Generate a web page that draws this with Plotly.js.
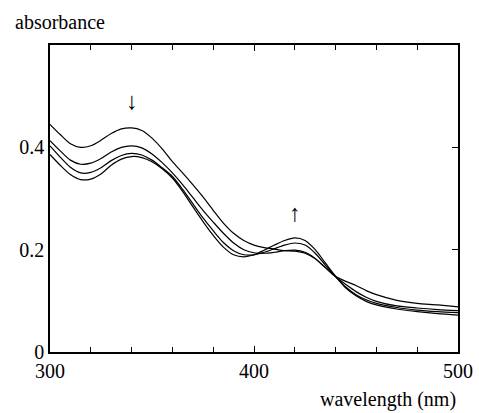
<!DOCTYPE html>
<html>
<head>
<meta charset="utf-8">
<script src="https://cdn.plot.ly/plotly-3.0.1.min.js"></script>
<style>
html,body{margin:0;padding:0;background:#fff;}
#chart{width:479px;height:413px;position:relative;z-index:1;}
#chart svg text{font-family:'Liberation Serif' !important;}
#fontwarm{position:absolute;left:2px;top:392px;font:12px 'Liberation Serif';color:#fff;z-index:0;white-space:nowrap;}
</style>
</head>
<body>
<div id="fontwarm">abs ↓↑ 0.4</div>
<div id="chart"></div>
<script>
// wavelength (nm)
const wavelength = [300,305,310,315,320,325,330,335,340,345,350,355,360,365,370,375,380,385,390,395,400,405,410,415,420,425,430,435,440,445,450,455,460,470,480,490,500];
// absorbance spectra (first -> last)
const spectrum1 = [0.445,0.425,0.407,0.400,0.403,0.414,0.427,0.436,0.438,0.433,0.418,0.397,0.372,0.350,0.327,0.303,0.277,0.252,0.232,0.218,0.209,0.204,0.201,0.198,0.197,0.193,0.182,0.165,0.148,0.138,0.130,0.120,0.112,0.101,0.095,0.092,0.088];
const spectrum2 = [0.413,0.393,0.375,0.367,0.369,0.378,0.391,0.400,0.403,0.399,0.387,0.370,0.350,0.327,0.302,0.277,0.254,0.232,0.213,0.200,0.194,0.193,0.195,0.198,0.199,0.195,0.183,0.165,0.147,0.132,0.118,0.107,0.099,0.090,0.086,0.083,0.081];
const spectrum3 = [0.403,0.381,0.361,0.350,0.351,0.360,0.374,0.384,0.388,0.385,0.375,0.360,0.343,0.318,0.290,0.262,0.237,0.214,0.198,0.190,0.190,0.195,0.202,0.209,0.213,0.209,0.193,0.170,0.147,0.127,0.112,0.102,0.095,0.087,0.082,0.079,0.077];
const spectrum4 = [0.386,0.365,0.347,0.337,0.338,0.348,0.365,0.377,0.382,0.380,0.372,0.358,0.340,0.314,0.284,0.255,0.228,0.205,0.190,0.186,0.190,0.199,0.209,0.218,0.223,0.218,0.200,0.174,0.148,0.125,0.110,0.099,0.092,0.084,0.079,0.075,0.072];
const spectra = [spectrum1, spectrum2, spectrum3, spectrum4];
// arrow annotations
const arrowX = [340, 420];
const arrowY = [0.49, 0.272];
const arrowText = ["↓", "↑"];
const xTickVals = [300, 400, 500];
const yTickVals = [0, 0.2, 0.4];
const yTickText = ["0", "0.2", "0.4"];

const FONT = 'Liberation Serif';

const traces = spectra.map(s => ({
  x: wavelength, y: s, type: 'scatter', mode: 'lines',
  line: {color: '#000', width: 1.2, shape: 'spline', smoothing: 0.8},
  hoverinfo: 'none', showlegend: false
}));
traces.push({x: [300], y: [0], yaxis: 'y2', mode: 'markers', marker: {opacity: 0}, showlegend: false, hoverinfo: 'none'});

const annotations = arrowX.map((x, i) => ({
  x: x, y: arrowY[i], xref: 'x', yref: 'y', text: arrowText[i], showarrow: false,
  font: {family: FONT, size: 24, color: '#000'}
}));
annotations.push({x: -0.09, y: 1.075, xref: 'paper', yref: 'paper', xanchor: 'left', yanchor: 'middle',
  text: 'absorbance', showarrow: false, font: {family: FONT, size: 20, color: '#000'}});
annotations.push({x: 1.0, y: -0.156, xref: 'paper', yref: 'paper', xanchor: 'right', yanchor: 'middle',
  text: 'wavelength (nm)', showarrow: false, font: {family: FONT, size: 20, color: '#000'}});

const layout = {
  width: 479, height: 413,
  margin: {l: 50, r: 21, t: 45, b: 61},
  paper_bgcolor: 'rgba(255,255,255,0)', plot_bgcolor: '#fff',
  font: {family: FONT, size: 20, color: '#000'},
  xaxis: {
    range: [300, 500], tickvals: xTickVals, ticks: 'inside', ticklen: 6, tickwidth: 1.2, tickcolor: '#000',
    minor: {dtick: 20, tick0: 300, ticks: 'inside', ticklen: 5, tickwidth: 1, tickcolor: '#000'},
    showline: true, linecolor: '#000', linewidth: 1.5, mirror: 'ticks', showgrid: false, zeroline: false,
    tickfont: {family: FONT, size: 20, color: '#000'}
  },
  yaxis: {
    range: [0, 0.6], tickvals: yTickVals, ticktext: yTickText, ticks: '',
    showline: true, linecolor: '#000', linewidth: 1.5, mirror: true, showgrid: false, zeroline: false,
    tickfont: {family: FONT, size: 20, color: '#000'}
  },
  yaxis2: {
    overlaying: 'y', side: 'right', range: [0, 0.6], tickvals: [0.2, 0.4], ticks: 'inside', ticklen: 6,
    tickwidth: 1.2, tickcolor: '#000', showticklabels: false, showgrid: false, zeroline: false, showline: false
  },
  annotations: annotations
};
Plotly.newPlot('chart', traces, layout, {displayModeBar: false});
</script>
</body>
</html>
